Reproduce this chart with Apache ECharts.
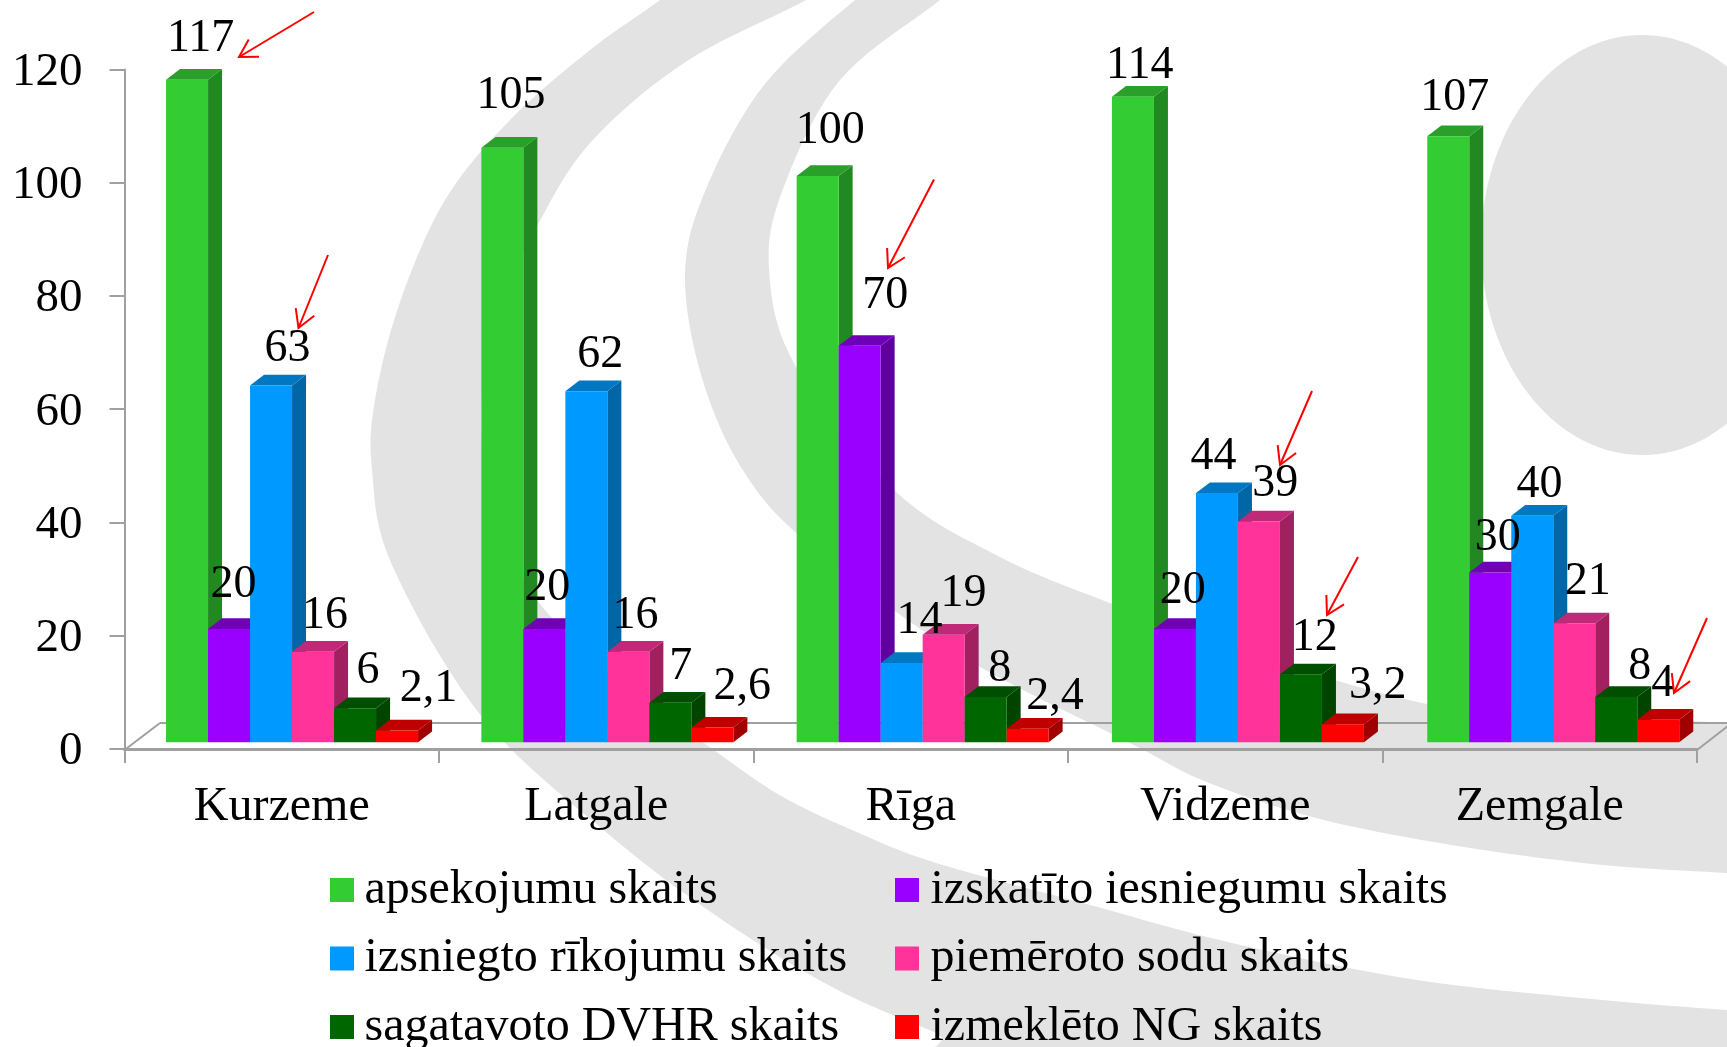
<!DOCTYPE html>
<html><head><meta charset="utf-8">
<style>html,body{margin:0;padding:0;background:#fff}#c{width:1727px;height:1047px}</style>
<script src="https://cdn.jsdelivr.net/npm/echarts@6/dist/echarts.min.js"></script>
</head><body><div id="c"></div>
<script>
const categories = ['Kurzeme','Latgale','Rīga','Vidzeme','Zemgale'];
const yTicks = {min:0,max:120,interval:20};
const apsekojumu = [117,105,100,114,107];
const iesniegumu = [20,20,70,20,30];
const rikojumu = [63,62,14,44,40];
const sodu = [16,16,19,39,21];
const dvhr = [6,7,8,12,8];
const ng = [2.1,2.6,2.4,3.2,4];

const seriesNames = ['apsekojumu skaits','izskatīto iesniegumu skaits','izsniegto rīkojumu skaits','piemēroto sodu skaits','sagatavoto DVHR skaits','izmeklēto NG skaits'];
const seriesValues = [apsekojumu,iesniegumu,rikojumu,sodu,dvhr,ng];
const faceColors = ['#33CC33','#9900FF','#0099FF','#FF3399','#006600','#FF0000'];
const topColors  = ['#2A9F2A','#7000B8','#0077C0','#C02878','#004F00','#C00000'];
const sideColors = ['#228822','#5F009E','#0066A6','#A02060','#004400','#A00000'];

// hand-placed label nudges (px from bar's front-top centre), as in the reference
const labelDx = [[13.5,8.6,12.7,6.8,6.4],[4.5,3,25.7,7.8,7.4],[16.5,13.9,17.9,-3.5,7.2],[11.9,7.1,19.9,16.2,13.6],[12.9,10.3,14.2,13.8,23.4],[31.4,30,27.3,34.7,4.5]];
const labelDy = [[-41,-52,-45,-31,-38],[-44.5,-41,-50,-38,-34],[-36.6,-35.8,-42,-36,-31],[-36,-36,-41,-38,-41],[-37,-35.5,-27.6,-36,-30],[-41,-40.6,-32,-38,-36]];

const FONT = '"Liberation Serif","Times New Roman",serif';
const AXIS = '#a0a0a0', GRAY = '#e3e3e3';
const BAR_W = 42, DEPTH_X = 14, DEPTH_Y = 10.7, GROUP_LEFT = -115.7, GROUP_DRIFT = 0.8, BASE_LIFT = 6.7;

function renderer(s){
  return function(params, api){
    const i = api.value(0), v = api.value(1);
    const band = api.size([1,0])[0];
    const k = band/314.5;
    const c = api.coord([i,v]);
    const x0 = c[0] + (GROUP_LEFT + i*GROUP_DRIFT + s*BAR_W)*k, x1 = x0 + BAR_W*k;
    const yT = c[1]-BASE_LIFT, yB = api.coord([i,0])[1]-BASE_LIFT;
    const dx = DEPTH_X, dy = DEPTH_Y;
    return {type:'group',children:[
      {type:'polygon',shape:{points:[[x1,yT],[x1+dx,yT-dy],[x1+dx,yB-dy],[x1,yB]]},style:{fill:sideColors[s]}},
      {type:'polygon',shape:{points:[[x0,yT],[x0+dx,yT-dy],[x1+dx,yT-dy],[x1,yT]]},style:{fill:topColors[s]}},
      {type:'rect',shape:{x:x0,y:yT,width:x1-x0,height:yB-yT},style:{fill:faceColors[s]}},
      {type:'text',z2:100,style:{x:(x0+x1)/2+labelDx[s][i],y:yT+labelDy[s][i],text:String(v).replace('.',','),
        fill:'#000',font:'46px '+FONT,textAlign:'center',textVerticalAlign:'middle'}}
    ]};
  };
}

// Background swoosh outlines (decoration only)
function spline(p){
  const out=[];
  for(let i=0;i<p.length-1;i++){
    const a=p[Math.max(i-1,0)],b=p[i],c=p[i+1],d=p[Math.min(i+2,p.length-1)];
    for(let t=0;t<1;t+=0.1){
      const t2=t*t,t3=t2*t;
      out.push([0,1].map(j=>0.5*(2*b[j]+(c[j]-a[j])*t+(2*a[j]-5*b[j]+4*c[j]-d[j])*t2+(3*b[j]-a[j]-3*c[j]+d[j])*t3)));
    }
  }
  out.push(p[p.length-1]);
  return out;
}
const band1Outer=[[710,-40],[660,0],[590,50],[510,120],[445,200],[400,302],[375,400],[372,470],[392,565],[482,717],[607,833],[718,917],[832,987],[936,1033],[1010,1065],[1800,1065]];
const band1Inner=[[1800,1015],[1727,1010],[1603,1000],[1417,980],[1232,943],[1083,903],[936,863],[859,833],[783,797],[718,753],[640,695],[545,610],[500,530],[481,425],[495,320],[535,230],[591,142],[687,61],[806,0],[870,-40]];
const band2Outer=[[900,-30],[855,0],[764,85],[706,189],[685,274],[702,378],[744,472],[810,545],[960,655],[1130,743],[1209,783],[1324,820],[1464,847],[1603,865],[1727,873],[1800,877]];
const band2Inner=[[1800,730],[1727,723],[1500,712],[1400,698],[1240,650],[1110,603],[1000,557],[895,491],[795,365],[769,269],[783,189],[840,80],[940,0],[985,-40]];

const arrows=[[[314,12],[239,57]],[[328,255],[298.5,328]],[[934,179.5],[888,268]],[[1312,391],[1280,465]],[[1358,557],[1327,615]],[[1707,618],[1674,693]]];
function arrowEls(){
  const els=[];
  arrows.forEach(a=>{
    const [s,t]=a, ang=Math.atan2(s[1]-t[1],s[0]-t[0]), L=20, B=Math.PI/6;
    els.push({type:'line',z:50,shape:{x1:s[0],y1:s[1],x2:t[0],y2:t[1]},style:{stroke:'#ff0000',lineWidth:2}});
    els.push({type:'polyline',z:50,shape:{points:[[t[0]+L*Math.cos(ang+B),t[1]+L*Math.sin(ang+B)],t,[t[0]+L*Math.cos(ang-B),t[1]+L*Math.sin(ang-B)]]},style:{stroke:'#ff0000',lineWidth:2,fill:'none'}});
  });
  return els;
}

const legendBase={orient:'vertical',icon:'rect',itemWidth:24,itemHeight:24,itemGap:15.5,top:863.5,height:220,padding:0,
  textStyle:{fontFamily:FONT,fontSize:48,color:'#000',lineHeight:53,padding:[0,0,0,5.5]},selectedMode:false};

const chart=echarts.init(document.getElementById('c'),null,{renderer:'canvas'});
chart.setOption({
  animation:false,
  backgroundColor:'#fff',
  grid:{left:124.5,right:30,top:69.4,bottom:298},
  xAxis:{type:'category',data:categories,
    axisLine:{lineStyle:{color:AXIS,width:3}},
    axisTick:{show:true,length:14,lineStyle:{color:AXIS,width:2},alignWithLabel:false},
    axisLabel:{fontFamily:FONT,fontSize:48,color:'#000',margin:34,interval:0},
    splitLine:{show:false}},
  yAxis:{type:'value',min:yTicks.min,max:yTicks.max,interval:yTicks.interval,
    axisLine:{show:true,lineStyle:{color:AXIS,width:2}},
    axisTick:{show:true,length:15,lineStyle:{color:AXIS,width:2}},
    axisLabel:{fontFamily:FONT,fontSize:47,color:'#000',margin:42,verticalAlign:'top',lineHeight:6},
    splitLine:{show:false}},
  legend:[
    Object.assign({},legendBase,{left:330,data:[seriesNames[0],seriesNames[2],seriesNames[4]]}),
    Object.assign({},legendBase,{left:895,textStyle:Object.assign({},legendBase.textStyle,{padding:[0,0,0,6.5]}),data:[seriesNames[1],seriesNames[3],seriesNames[5]]})
  ],
  graphic:{elements:[
    {type:'polygon',z:-10,silent:true,shape:{points:spline(band1Outer).concat(spline(band1Inner))},style:{fill:GRAY}},
    {type:'polygon',z:-10,silent:true,shape:{points:spline(band2Outer).concat(spline(band2Inner))},style:{fill:GRAY}},
    {type:'ellipse',z:-10,silent:true,shape:{cx:1642,cy:245,rx:161,ry:210},style:{fill:GRAY}},
    {type:'line',z:-1,silent:true,shape:{x1:160,y1:723,x2:1727,y2:723},style:{stroke:AXIS,lineWidth:2}},
    {type:'line',z:-1,silent:true,shape:{x1:124.5,y1:750,x2:160,y2:723},style:{stroke:AXIS,lineWidth:2}},
    {type:'line',z:-1,silent:true,shape:{x1:1697,y1:750,x2:1732,y2:723},style:{stroke:AXIS,lineWidth:2}}
  ].concat(arrowEls())},
  series:seriesNames.map((n,s)=>({
    type:'custom',name:n,coordinateSystem:'cartesian2d',
    itemStyle:{color:faceColors[s]},
    encode:{x:0,y:1},
    renderItem:renderer(s),
    data:seriesValues[s].map((v,i)=>[i,v])
  }))
});
</script></body></html>
